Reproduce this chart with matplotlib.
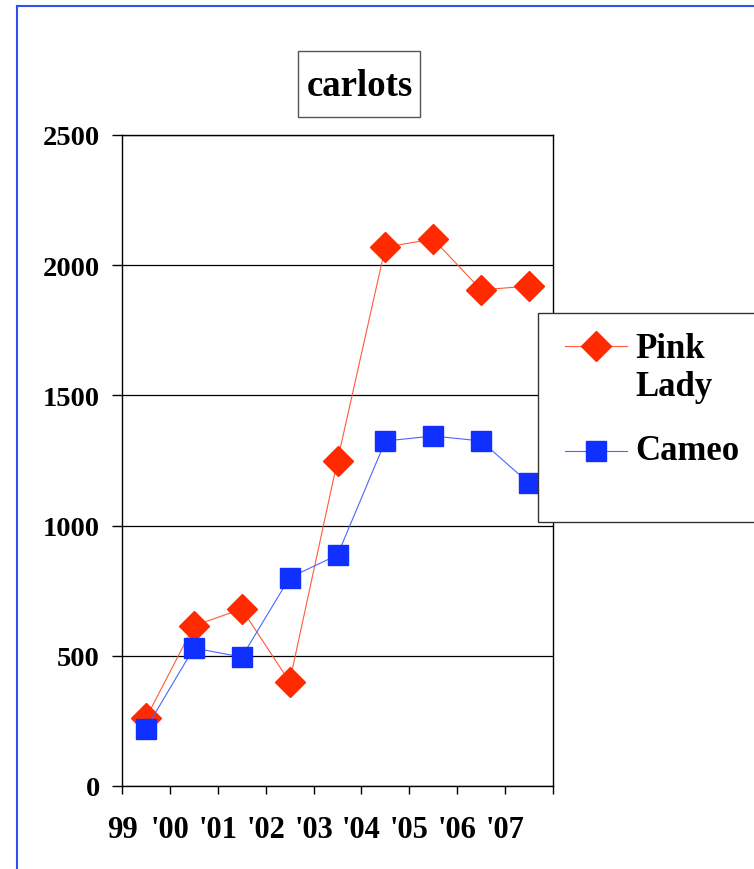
import matplotlib
matplotlib.use('Agg')
import matplotlib.pyplot as plt
from matplotlib.lines import Line2D
from matplotlib.patches import Rectangle

# carlots per season
seasons = ['99', "'00", "'01", "'02", "'03", "'04", "'05", "'06", "'07"]
pink_lady = [260, 615, 680, 400, 1250, 2070, 2100, 1905, 1920]
cameo = [220, 530, 495, 800, 887, 1325, 1344, 1325, 1163]
y_ticks = [0, 500, 1000, 1500, 2000, 2500]
series_names = ['Pink\nLady', 'Cameo']

W, H = 754, 870
plt.rcParams['font.family'] = ['Liberation Serif', 'DejaVu Serif']
plt.rcParams['font.weight'] = 'bold'

fig = plt.figure(figsize=(W / 100, H / 100), dpi=100)

def fx(x):
    return x / W

def fy(y):
    # pixel row from top -> figure fraction
    return 1 - y / H

ax = fig.add_axes([fx(122), fy(787), fx(553 - 122), (787 - 136) / H])

red, blue = '#ff2a00', '#1030ff'
red_line, blue_line = '#ff5a3a', '#4a66ff'
styles = [dict(color=red_line, lw=0.8, marker='D', markersize=15,
               markerfacecolor=red, markeredgecolor=red),
          dict(color=blue_line, lw=0.8, marker='s', markersize=14,
               markerfacecolor=blue, markeredgecolor=blue)]

x = list(range(len(seasons)))
ax.plot(x, pink_lady, zorder=3, **styles[0])
ax.plot(x, cameo, zorder=4, **styles[1])

ax.set_xlim(-0.5, len(seasons) - 0.5)
ax.set_ylim(0, 2500)
ax.set_yticks(y_ticks)
ax.set_yticklabels([str(v) for v in y_ticks], fontsize=20.5, fontweight='bold')
ax.set_xticks([i - 0.5 for i in range(len(seasons) + 1)])
ax.set_xticklabels(seasons + [''], fontsize=22, fontweight='bold')
ax.tick_params(axis='x', direction='out', length=6, width=1, pad=15)
ax.tick_params(axis='y', direction='out', length=7, width=1, pad=9)
ax.grid(axis='y', color='black', lw=0.9)
ax.set_axisbelow(True)
for s in ax.spines.values():
    s.set_color('black')
    s.set_linewidth(1)

# title in its own box
fig.patches.append(Rectangle((fx(298), fy(118)), fx(122), 66 / H,
                             transform=fig.transFigure, fill=False,
                             edgecolor='#555555', lw=1))
fig.text(fx(360), fy(86), 'carlots', ha='center', va='center',
         fontsize=26.5, fontweight='bold')

# blue outer frame
fig.add_artist(Line2D([fx(17), 1], [fy(7), fy(7)], transform=fig.transFigure,
                      color='#3050f0', lw=1.5))
fig.add_artist(Line2D([fx(17), fx(17)], [fy(7), 0], transform=fig.transFigure,
                      color='#3050f0', lw=1.5))

# legend box (runs off the right edge, handle next to first label line)
fig.patches.append(Rectangle((fx(538), fy(523)), fx(260), (523 - 314) / H,
                             transform=fig.transFigure, facecolor='white',
                             edgecolor='#333333', lw=1, zorder=5))
for name, st, hy, ty in zip(series_names, styles, [347, 452], [369, 452]):
    fig.add_artist(Line2D([fx(565), fx(627)], [fy(hy), fy(hy)], transform=fig.transFigure,
                          color=st['color'], lw=st['lw'], zorder=6))
    fig.add_artist(Line2D([fx(596)], [fy(hy)], transform=fig.transFigure, zorder=6,
                          **{k: v for k, v in st.items() if k not in ('color', 'lw')},
                          linestyle='none'))
    fig.text(fx(635), fy(ty), name, ha='left', va='center', fontsize=25,
             fontweight='bold', linespacing=1.2, zorder=7)

fig.savefig('out.png', dpi=100)
